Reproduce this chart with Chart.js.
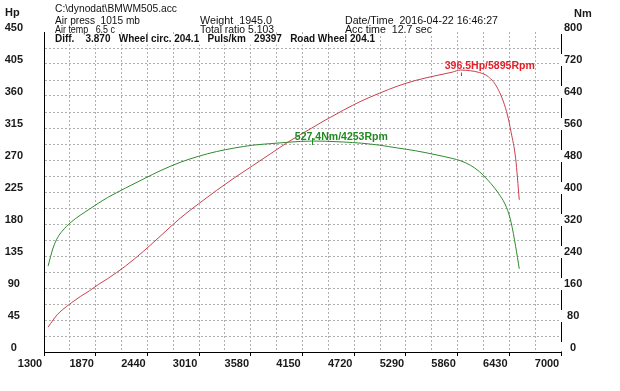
<!DOCTYPE html>
<html>
<head>
<meta charset="utf-8">
<script src="https://cdn.jsdelivr.net/npm/chart.js@4/dist/chart.umd.min.js"></script>
<style>
html,body{margin:0;padding:0;background:#fff;}
#wrap{width:620px;height:391px;position:relative;}
</style>
</head>
<body>
<div id="wrap"><canvas id="c" width="620" height="391"></canvas></div>
<script>
// ---------- DATA ----------
const rpm = [1345, 1400, 1450, 1500, 1600, 1700, 1800, 1900, 2000, 2200, 2400, 2600, 2800, 3000, 3200, 3400, 3600, 3800, 4000, 4253, 4400, 4600, 4800, 5000, 5200, 5400, 5600, 5800, 5895, 6000, 6100, 6200, 6300, 6400, 6450, 6500, 6540];
const powerHp = [35, 45, 53, 59, 69, 78, 86, 95, 103, 121, 142, 165, 188, 208, 227, 245, 262, 279, 296, 315, 326, 340, 353, 364, 374, 382, 388, 393.5, 396.5, 395.5, 393, 387, 371, 338, 309, 272, 214];
const torqueNm = [215, 260, 286, 302, 325, 342, 357, 372, 386, 410, 433, 455, 474, 489, 501, 510, 517, 521, 524.5, 527.4, 527, 525, 522, 517, 510, 503, 494, 484, 478, 467, 451, 428, 400, 361, 324, 264, 208];

const rpmMin = 1300, rpmMax = 7000, rpmGridStep = 285, rpmLabelStep = 570;
const hpMin = 0, hpMax = 450, hpGridStep = 22.5, hpLabelStep = 45;
const nmMin = 0, nmMax = 800, nmLabelStep = 80;

const peakPower = { value: 396.5, rpm: 5895 };
const peakTorque = { value: 527.4, rpm: 4253 };

const headerTexts = [
  'C:\\dynodat\\BMWM505.acc',
  'Air press  1015 mb',
  'Weight  1945.0',
  'Date/Time  2016-04-22 16:46:27',
  'Air temp   6.5 c',
  'Total ratio 5.103',
  'Acc time  12.7 sec',
  'Diff.    3.870   Wheel circ. 204.1   Puls/km   29397   Road Wheel 204.1'
];
const leftAxisTitle = 'Hp';
const rightAxisTitle = 'Nm';

// ---------- BUILD ----------
function range(a, b, s) { const out = []; for (let i = 0; a + i * s <= b + 1e-9; i++) out.push(a + i * s); return out; }
const xTickValues = range(rpmMin, rpmMax, rpmGridStep);
const hpTickValues = range(hpMin, hpMax, hpGridStep);
const nmTickValues = range(nmMin, nmMax, nmLabelStep);

const FAM = "'Liberation Sans', Arial, sans-serif";
const tickFont = { family: FAM, size: 11, weight: 'bold', lineHeight: 1 };
const gridColor = '#b0b0b0';
const labelColor = '#1a1a1a';

function drawFitted(ctx, text, x, y, width, font, color, bg) {
  ctx.save();
  ctx.font = font;
  ctx.textBaseline = 'middle';
  ctx.textAlign = 'left';
  const w = ctx.measureText(text).width;
  const sx = width / w;
  if (bg) { ctx.fillStyle = '#fff'; ctx.fillRect(x - 1, y - 4.5, width + 2, 10); }
  ctx.translate(x, y);
  ctx.scale(sx, 1);
  ctx.fillStyle = color;
  ctx.fillText(text, 0, 0);
  ctx.restore();
}

const decorPlugin = {
  id: 'decor',
  afterDatasetsDraw(chart) {
    const ctx = chart.ctx;
    const xs = chart.scales.x, yh = chart.scales.yHp, yn = chart.scales.yNm;
    // power peak annotation
    let px = xs.getPixelForValue(peakPower.rpm), py = yh.getPixelForValue(peakPower.value);
    drawFitted(ctx, peakPower.value + 'Hp/' + peakPower.rpm + 'Rpm', px - 16, py - 4, 90, 'bold 11px ' + FAM, '#e3202a', false);
    ctx.save(); ctx.strokeStyle = '#e3202a'; ctx.lineWidth = 1;
    ctx.beginPath(); ctx.moveTo(Math.round(px) + 0.5, py + 2.5); ctx.lineTo(Math.round(px) + 0.5, py + 6); ctx.stroke(); ctx.restore();
    // torque peak annotation
    px = xs.getPixelForValue(peakTorque.rpm); py = yn.getPixelForValue(peakTorque.value);
    drawFitted(ctx, peakTorque.value + 'Nm/' + peakTorque.rpm + 'Rpm', px - 17, py - 4, 93, 'bold 11px ' + FAM, '#1f8a1f', false);
    ctx.save(); ctx.strokeStyle = '#1f8a1f'; ctx.lineWidth = 1;
    ctx.beginPath(); ctx.moveTo(Math.round(px) + 0.5, py - 3); ctx.lineTo(Math.round(px) + 0.5, py + 4); ctx.stroke(); ctx.restore();
  },
  afterDraw(chart) {
    const ctx = chart.ctx;
    const yn = chart.scales.yNm;
    // break right axis line around its labels
    ctx.save();
    ctx.fillStyle = '#fff';
    yn.ticks.forEach(t => {
      const c = yn.getPixelForValue(t.value) - 4;
      const top = c - 6, bot = Math.min(c + 6, chart.chartArea.bottom - 0.5);
      ctx.fillRect(yn.left - 2, top, 4.6, bot - top);
    });
    ctx.restore();
    // header
    const pos = [
      [55, 9, 122, 'normal'],
      [55, 21, 85, 'normal'], [200, 21, 72, 'normal'], [345, 21, 153, 'normal'],
      [55, 30, 60, 'normal'], [200, 30, 74, 'normal'], [345, 30, 87, 'normal'],
      [55, 39, 320, 'bold']
    ];
    headerTexts.forEach((t, i) => {
      const p = pos[i];
      drawFitted(ctx, t, p[0], p[1], p[2], p[3] + ' 11px ' + FAM, '#111', true);
    });
    // axis titles
    ctx.save();
    ctx.font = 'bold 11px ' + FAM;
    ctx.fillStyle = labelColor;
    ctx.textBaseline = 'middle';
    ctx.textAlign = 'left';
    ctx.fillText(leftAxisTitle, 5, 13);
    ctx.fillText(rightAxisTitle, 574, 14);
    ctx.restore();
  }
};

new Chart(document.getElementById('c'), {
  type: 'line',
  data: {
    datasets: [
      {
        label: 'Power (Hp)',
        data: rpm.map((r, i) => ({ x: r, y: powerHp[i] })),
        yAxisID: 'yHp',
        borderColor: '#c8404c',
        borderWidth: 1,
        pointRadius: 0,
        cubicInterpolationMode: 'monotone',
        fill: false
      },
      {
        label: 'Torque (Nm)',
        data: rpm.map((r, i) => ({ x: r, y: torqueNm[i] })),
        yAxisID: 'yNm',
        borderColor: '#2e8a2e',
        borderWidth: 1,
        pointRadius: 0,
        cubicInterpolationMode: 'monotone',
        fill: false
      }
    ]
  },
  options: {
    responsive: false,
    animation: false,
    events: [],
    layout: { padding: { top: 32, left: 0, right: 0, bottom: 0 } },
    plugins: { legend: { display: false }, tooltip: { enabled: false }, title: { display: false } },
    scales: {
      x: {
        type: 'linear', position: 'bottom', min: rpmMin, max: rpmMax,
        afterBuildTicks: s => { s.ticks = xTickValues.map(v => ({ value: v })); },
        afterFit: s => { s.height = 39; },
        ticks: {
          autoSkip: false, maxRotation: 0, minRotation: 0,
          font: tickFont, color: labelColor, padding: 2, labelOffset: -14,
          callback: v => ((v - rpmMin) % rpmLabelStep === 0 ? String(v) : '')
        },
        grid: {
          color: gridColor, lineWidth: 1, drawTicks: true, tickLength: 4,
          tickColor: c => (c.tick && (c.tick.value - rpmMin) % rpmLabelStep === 0) ? '#000' : 'rgba(0,0,0,0)',
          tickBorderDash: []
        },
        border: { display: true, color: '#000', width: 1, dash: [2, 2] }
      },
      yHp: {
        type: 'linear', position: 'left', min: hpMin, max: hpMax,
        afterBuildTicks: s => { s.ticks = hpTickValues.map(v => ({ value: v })); },
        afterFit: s => { s.width = 44; },
        ticks: {
          font: tickFont, color: labelColor, crossAlign: 'center', padding: 21, labelOffset: -4,
          callback: v => (Math.round(v / hpGridStep) % 2 === 0 ? String(v) : '')
        },
        grid: {
          drawTicks: false, lineWidth: 1,
          color: c => (c.tick && c.tick.value >= hpMax) ? 'rgba(0,0,0,0)' : gridColor
        },
        border: { display: true, color: '#000', width: 1, dash: [2, 2] }
      },
      yNm: {
        type: 'linear', position: 'right', min: nmMin, max: nmMax,
        afterBuildTicks: s => { s.ticks = nmTickValues.map(v => ({ value: v })); },
        afterFit: s => { s.width = 59; },
        ticks: {
          font: tickFont, color: labelColor, crossAlign: 'center', padding: 3, labelOffset: -4,
          callback: v => String(v)
        },
        grid: { drawOnChartArea: false, drawTicks: false },
        border: { display: true, color: '#000', width: 1 }
      }
    }
  },
  plugins: [decorPlugin]
});
</script>
</body>
</html>
